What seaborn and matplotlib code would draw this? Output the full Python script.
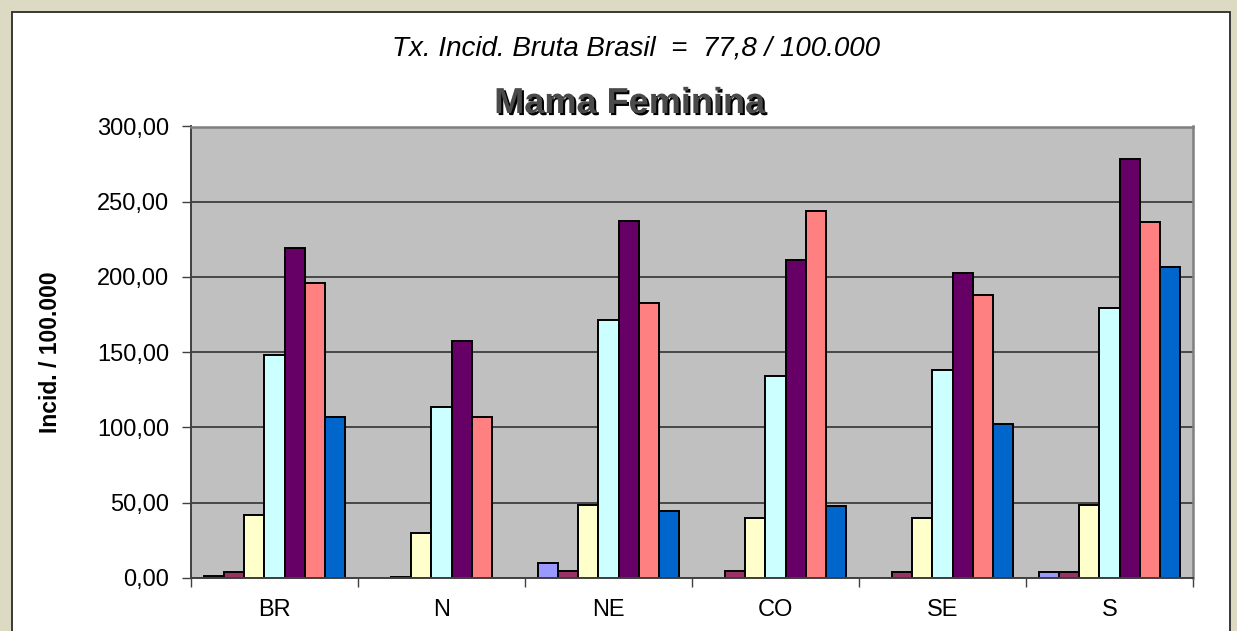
import numpy as np
import pandas as pd
import matplotlib
matplotlib.use("Agg")
import matplotlib.pyplot as plt
import matplotlib.patheffects as pe
from matplotlib.patches import Rectangle
from matplotlib.ticker import FixedLocator, FuncFormatter
import seaborn as sns

# ---------------- data ----------------
categories = ["BR", "N", "NE", "CO", "SE", "S"]
series_names = ["Série 1", "Série 2", "Série 3", "Série 4", "Série 5", "Série 6", "Série 7"]
nan = np.nan
serie1 = [1.0, nan, 10.0, nan, nan, 3.6]
serie2 = [3.6, 0.8, 4.7, 4.7, 3.6, 3.6]
serie3 = [41.7, 29.5, 48.5, 39.6, 39.6, 48.5]
serie4 = [148.1, 113.7, 171.5, 134.4, 138.2, 179.3]
serie5 = [219.0, 157.6, 237.3, 211.4, 202.5, 278.3]
serie6 = [195.7, 107.1, 183.0, 243.5, 188.1, 236.2]
serie7 = [107.1, nan, 44.7, 47.4, 102.1, 206.3]
y_ticks = [0, 50, 100, 150, 200, 250, 300]
subtitle = "Tx. Incid. Bruta Brasil  =  77,8 / 100.000"
title = "Mama Feminina"
ylabel = "Incid. / 100.000"

colors = ["#9999FF", "#993366", "#FFFFCC", "#CCFFFF", "#660066", "#FF8080", "#0066CC"]

all_series = [serie1, serie2, serie3, serie4, serie5, serie6, serie7]
rows = []
for name, vals in zip(series_names, all_series):
    for cat, v in zip(categories, vals):
        rows.append({"Região": cat, "Série": name, "Incid": v})
df = pd.DataFrame(rows).dropna()

# ---------------- figure ----------------
plt.rcParams["font.family"] = ["Liberation Sans", "DejaVu Sans"]
W, H = 1237, 631
fig = plt.figure(figsize=(W / 100, H / 100), dpi=100)
fig.patch.set_facecolor("#DDDAC4")

frame = Rectangle((12 / W, -0.05), (1230 - 12) / W, (H - 12) / H + 0.05,
                  transform=fig.transFigure, facecolor="white",
                  edgecolor="#2b2b2b", linewidth=1.3, zorder=-10)
fig.add_artist(frame)

ax = fig.add_axes([191 / W, 1 - 577.8 / H, 1002 / W, 451.3 / H])
ax.set_facecolor("#C0C0C0")

sns.barplot(data=df, x="Região", y="Incid", hue="Série", order=categories,
            hue_order=series_names, palette=colors, width=0.84,
            edgecolor="black", linewidth=1.4, saturation=1,
            errorbar=None, legend=False, ax=ax)

ax.set_xlim(-0.5, len(categories) - 0.5)
ax.set_ylim(0, 300)
ax.set_axisbelow(True)
ax.yaxis.grid(True, color="#333333", linewidth=1.2)
ax.xaxis.grid(False)

ax.yaxis.set_major_locator(FixedLocator(y_ticks))
ax.yaxis.set_major_formatter(FuncFormatter(lambda v, p: f"{v:.2f}".replace(".", ",")))
ax.tick_params(axis="y", length=6.5, width=1.0, color="#404040", pad=9,
               labelsize=17, labelcolor="black")

ax.set_xticks(range(len(categories)))
ax.set_xticklabels(categories)
ax.xaxis.set_minor_locator(FixedLocator(np.arange(-0.5, len(categories), 1.0)))
ax.tick_params(axis="x", which="major", length=0, pad=15, labelsize=17,
               labelcolor="black")
ax.tick_params(axis="x", which="minor", length=6.5, width=1.0, color="#404040")

ax.set_xlabel("")
ax.set_ylabel(ylabel, fontsize=16.5, fontweight="bold")
ax.yaxis.label.set_va("center")
ax.yaxis.set_label_coords((51 - 191) / 1002, 0.5)

for s in ["left", "bottom"]:
    ax.spines[s].set_color("#404040")
    ax.spines[s].set_linewidth(1.4)
for s in ["top", "right"]:
    ax.spines[s].set_color("#808080")
    ax.spines[s].set_linewidth(1.8)

fig.text(636 / W, 1 - 55.7 / H, subtitle, ha="center", va="baseline",
         fontsize=20, style="italic", color="black")
fig.text(629.5 / W, 1 - 113 / H, title, ha="center", va="baseline",
         fontsize=26, fontweight="bold", color="#4a4a4a",
         path_effects=[pe.SimplePatchShadow(offset=(1.5, -1.5),
                                            shadow_rgbFace="black", alpha=1.0),
                       pe.Normal()])

fig.savefig("out.png", dpi=100, facecolor=fig.get_facecolor())
